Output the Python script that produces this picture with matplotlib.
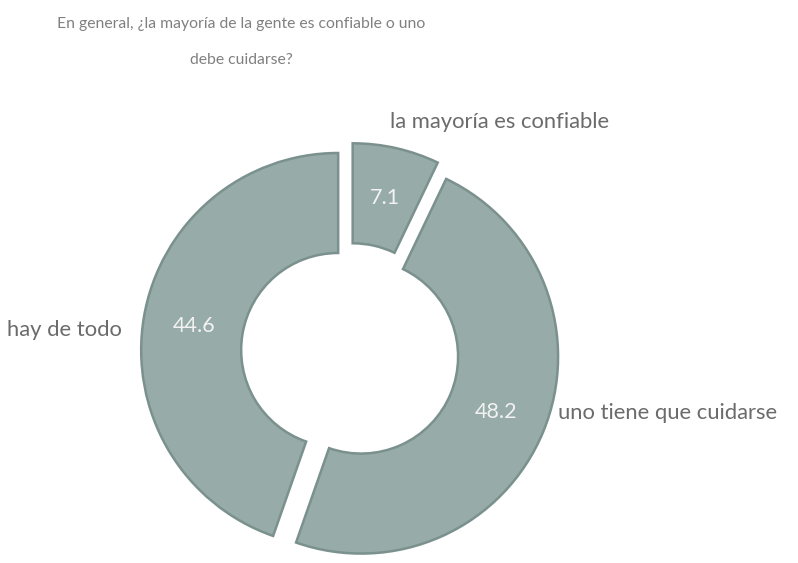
import numpy as np
import matplotlib.pyplot as plt

# Survey results (percent)
categories = ['la mayoría es confiable', 'uno tiene que cuidarse', 'hay de todo']
values = [7.1, 48.2, 44.6]

title = 'En general, ¿la mayoría de la gente es confiable o uno\ndebe cuidarse?'

fill = '#97aba8'
edge = '#7b918e'

plt.rcParams['font.family'] = ['Lato', 'DejaVu Sans']

W, H = 798, 563
fig = plt.figure(figsize=(W / 100, H / 100), dpi=100)
ax = fig.add_axes([0, 0, 1, 1])

# pie drawn in pixel-like data units so radius / explode are easy to set
R = 197
cx, cy = 350, H - 352
wedges, _ = ax.pie(values, radius=R, center=(cx, cy), startangle=90,
                   counterclock=False, explode=[12] * len(values),
                   colors=[fill] * len(values),
                   wedgeprops=dict(width=100, edgecolor=edge, linewidth=1.8),
                   frame=True)

# value labels in the middle of the ring
for w, v in zip(wedges, values):
    ang = np.deg2rad((w.theta1 + w.theta2) / 2)
    x0, y0 = w.center
    ax.text(x0 + 0.74 * R * np.cos(ang), y0 + 0.74 * R * np.sin(ang),
            f'{v:.1f}', ha='center', va='center', fontsize=15.5, color='#f2f2f2')

# category labels outside the ring
label_pos = {
    'la mayoría es confiable': (390, 122, 'left'),
    'uno tiene que cuidarse': (558, 413, 'left'),
    'hay de todo': (122, 330, 'right'),
}
for cat in categories:
    x, y, ha = label_pos[cat]
    ax.text(x, H - y, cat, ha=ha, va='center', fontsize=15.8, color='#6b6b6b')

ax.text(241, H - 42, title, ha='center', va='center', fontsize=11.3,
        color='#808080', linespacing=2.95)

ax.set_xlim(0, W)
ax.set_ylim(0, H)
ax.set_aspect('auto')
ax.axis('off')

fig.savefig('out.png', dpi=100)
